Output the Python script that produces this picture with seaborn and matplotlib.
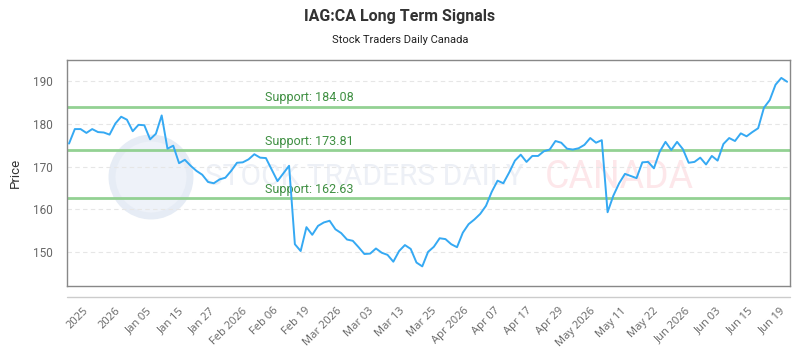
import numpy as np
import pandas as pd
import seaborn as sns
import matplotlib
matplotlib.use("Agg")
import matplotlib.pyplot as plt
from matplotlib.lines import Line2D
from matplotlib.patches import Ellipse
import matplotlib.transforms as mtransforms

# ---- data ----
prices = [
    175.4, 178.8, 178.8, 177.9, 178.8, 178.1, 178.0, 177.5, 180.1, 181.7,
    181.0, 178.3, 179.8, 179.7, 176.4, 177.7, 182.0, 174.2, 174.9, 170.8,
    171.6, 170.2, 169.0, 168.1, 166.4, 166.1, 167.0, 167.4, 169.0, 170.9,
    171.0, 171.7, 172.9, 172.1, 172.0, 169.3, 166.6, 168.4, 170.2, 151.8,
    150.2, 155.8, 154.0, 156.1, 156.9, 157.3, 155.3, 154.4, 152.9, 152.6,
    151.1, 149.5, 149.6, 150.8, 149.8, 149.3, 147.7, 150.2, 151.6, 150.7,
    147.5, 146.6, 150.0, 151.2, 153.2, 153.0, 151.8, 151.1, 154.5, 156.5,
    157.6, 158.9, 160.8, 164.1, 166.7, 166.1, 168.6, 171.4, 172.8, 171.1,
    172.5, 172.5, 173.6, 174.0, 176.0, 175.6, 174.2, 174.0, 174.3, 175.1,
    176.7, 175.6, 176.2, 159.3, 163.2, 166.1, 168.3, 167.8, 167.3, 171.0,
    171.1, 169.6, 173.5, 175.8, 173.9, 175.8, 174.1, 170.9, 171.1, 172.1,
    170.5, 172.5, 171.4, 175.3, 176.7, 176.0, 177.8, 177.1, 178.1, 179.0,
    183.8, 185.6, 189.2, 190.8, 189.9,
]
tick_labels = [
    "2025", "2026", "Jan 05", "Jan 15", "Jan 27", "Feb 2026", "Feb 06",
    "Feb 19", "Mar 2026", "Mar 03", "Mar 13", "Mar 25", "Apr 2026",
    "Apr 07", "Apr 17", "Apr 29", "May 2026", "May 11", "May 22",
    "Jun 2026", "Jun 03", "Jun 15", "Jun 19",
]
support_levels = [184.08, 173.81, 162.63]
y_ticks = [150, 160, 170, 180, 190]

title = "IAG:CA Long Term Signals"
subtitle = "Stock Traders Daily Canada"

df = pd.DataFrame({"idx": np.arange(len(prices)), "price": prices})

# ---- figure ----
sns.set_style("white")
plt.rcParams["font.family"] = ["Roboto", "DejaVu Sans"]

fig = plt.figure(figsize=(8, 3.5), dpi=100)
ax_w, ax_h = 790 - 67, 286 - 60
ax = fig.add_axes([67 / 800, 1 - 286 / 350, ax_w / 800, ax_h / 350])

# watermark (faint logo + text)
ax.add_patch(Ellipse(((151 - 67) / ax_w, (286 - 177) / ax_h),
                     78 / ax_w, 78 / ax_h, transform=ax.transAxes,
                     facecolor="#eef2f9", edgecolor="#e6ecf5", lw=5,
                     zorder=0.5))
ax.text((205 - 67) / ax_w, (286 - 177) / ax_h, "STOCK TRADERS DAILY",
        transform=ax.transAxes, fontsize=21.5, color="#edf0f6",
        ha="left", va="center", zorder=0.6)
ax.text((545 - 67) / ax_w, (286 - 177) / ax_h, "CANADA",
        transform=ax.transAxes, fontsize=27, color="#fde7ea",
        ha="left", va="center", zorder=0.6)

# grid
for yv in y_ticks:
    ax.axhline(yv, color="#e6e6e6", lw=0.8, ls=(0, (4, 3)), zorder=1)

# support lines
trans = mtransforms.blended_transform_factory(ax.transAxes, ax.transData)
for s in support_levels:
    ax.axhline(s, color="#93d193", lw=2, zorder=2)
    ax.annotate(f"Support: {s:.2f}", xy=(0.274, s), xycoords=trans,
                xytext=(0, 1.5), textcoords="offset points",
                fontsize=9, color="#3f8f42", ha="left", va="bottom",
                zorder=3)

sns.lineplot(data=df, x="idx", y="price", ax=ax, color="#35a9f3",
             lw=1.4, zorder=4)

ax.set_xlim(-0.35, len(prices) - 1 + 0.5)
ax.set_ylim(142, 195)
ax.set_yticks(y_ticks)
ax.set_yticklabels([str(v) for v in y_ticks], fontsize=8.5, color="#666666")
ax.tick_params(axis="y", length=0, pad=10)

tick_pos = np.linspace(2.4, 122.7, len(tick_labels))
ax.set_xticks(tick_pos)
ax.set_xticklabels(tick_labels, rotation=45, ha="right",
                   rotation_mode="anchor", fontsize=8, color="#666666",
                   family=["Open Sans", "DejaVu Sans"])
ax.tick_params(axis="x", length=0, pad=14)

ax.set_xlabel("")
ax.set_ylabel("Price", fontsize=9.5, color="#333333", labelpad=8)

for sp in ax.spines.values():
    sp.set_color("#888888")
    sp.set_linewidth(1.0)

# separate x-axis line below the plot frame
fig.add_artist(Line2D([67 / 800, 790 / 800], [1 - 297 / 350] * 2,
                      color="#cccccc", lw=1.0))

fig.text(0.5, 1 - 16 / 350, title, ha="center", va="center",
         fontsize=11.5, fontweight="bold", color="#333333")
fig.text(0.5, 1 - 40 / 350, subtitle, ha="center", va="center",
         fontsize=8, color="#222222")

fig.savefig("out.png", dpi=100, facecolor="white")
